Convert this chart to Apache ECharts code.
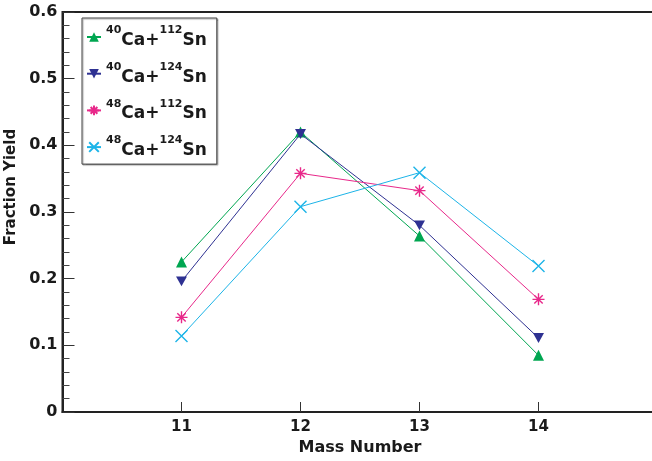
<!DOCTYPE html>
<html>
<head>
<meta charset="utf-8">
<script src="https://cdn.jsdelivr.net/npm/echarts@6/dist/echarts.min.js"></script>
<style>
html,body{margin:0;padding:0;background:#fff;}
#c{width:652px;height:461px;}
</style>
</head>
<body>
<div id="c"></div>
<script>
var massNumbers = [11, 12, 13, 14];
var xTickLabels = [11, 12, 13, 14];
var yTickValues = [0, 0.1, 0.2, 0.3, 0.4, 0.5, 0.6];
var seriesNames = ['40Ca+112Sn', '40Ca+124Sn', '48Ca+112Sn', '48Ca+124Sn'];
var ca40sn112 = [0.225, 0.420, 0.264, 0.085];
var ca40sn124 = [0.196, 0.417, 0.280, 0.111];
var ca48sn112 = [0.142, 0.358, 0.332, 0.169];
var ca48sn124 = [0.114, 0.308, 0.359, 0.219];
var seriesValues = [ca40sn112, ca40sn124, ca48sn112, ca48sn124];

var colors = ['#00a651', '#2e3192', '#e8288a', '#1cb4e8'];
var FONT = 'DejaVu Sans';

function pairs(vals) {
  return massNumbers.map(function (m, i) { return [m, vals[i]]; });
}

var symbolDefs = [
  { symbol: 'triangle', size: 11, filled: true },
  { symbol: 'path://M0,0L10,0L5,9Z', size: 11, filled: true },
  { symbol: 'path://M5,0L5,10M0,5L10,5M1.5,1.5L8.5,8.5M8.5,1.5L1.5,8.5', size: 12, filled: false },
  { symbol: 'path://M0,0L10,10M10,0L0,10', size: 12, filled: false }
];

var series = seriesNames.map(function (name, i) {
  var d = symbolDefs[i];
  return {
    name: name,
    type: 'line',
    data: pairs(seriesValues[i]),
    symbol: d.symbol,
    symbolSize: d.size,
    symbolKeepAspect: true,
    lineStyle: { color: colors[i], width: 1 },
    itemStyle: d.filled
      ? { color: colors[i], borderWidth: 0 }
      : { color: 'rgba(0,0,0,0)', borderColor: colors[i], borderWidth: 1.4 },
    emphasis: { disabled: true },
    animation: false,
    z: 2 + i
  };
});
// draw order: blue over green at the peak
series = [series[0], series[2], series[3], series[1]];

function legendLabel(name) {
  var m = name.match(/^(\d+)Ca\+(\d+)Sn$/);
  return '{s|' + m[1] + '}{m|Ca+}{s|' + m[2] + '}{m|Sn}';
}

var chart = echarts.init(document.getElementById('c'), null, { renderer: 'canvas' });
chart.setOption({
  backgroundColor: '#ffffff',
  animation: false,
  grid: {
    left: 62.5, top: 12, width: 595, height: 400,
    containLabel: false, outerBoundsMode: 'none',
    show: true, borderColor: '#222', borderWidth: 2, backgroundColor: 'transparent'
  },
  legend: {
    data: seriesNames,
    orient: 'vertical',
    left: 82, top: 18,
    padding: [7, 10, 5, 4],
    itemGap: 12.7,
    itemWidth: 14, itemHeight: 12,
    backgroundColor: '#fff',
    borderColor: '#444', borderWidth: 1,
    shadowColor: 'rgba(0,0,0,0.35)', shadowOffsetX: 1, shadowOffsetY: 1, shadowBlur: 1,
    formatter: legendLabel,
    textStyle: {
      fontFamily: FONT, color: '#1a1a1a',
      rich: {
        s: { fontFamily: FONT, fontSize: 11, fontWeight: 'bold', color: '#1a1a1a', verticalAlign: 'top', lineHeight: 14 },
        m: { fontFamily: FONT, fontSize: 17, fontWeight: 'bold', color: '#1a1a1a', lineHeight: 24, verticalAlign: 'bottom' }
      }
    }
  },
  xAxis: {
    type: 'value',
    min: 10, max: 15,
    name: 'Mass Number',
    nameLocation: 'middle',
    nameGap: 26,
    nameTextStyle: { fontFamily: FONT, fontSize: 16, fontWeight: 'bold', color: '#1a1a1a' },
    axisLine: { show: true, lineStyle: { color: '#222', width: 2 } },
    axisTick: { show: true, inside: true, length: 10, lineStyle: { color: '#333', width: 1 }, customValues: xTickLabels },
    axisLabel: { show: true, margin: 8, fontFamily: FONT, fontSize: 15, fontWeight: 'bold', color: '#1a1a1a', customValues: xTickLabels },
    splitLine: { show: false }
  },
  yAxis: {
    type: 'value',
    min: 0, max: 0.6, interval: 0.1,
    name: 'Fraction Yield',
    nameLocation: 'middle',
    nameRotate: 90,
    nameGap: 40,
    nameTextStyle: { fontFamily: FONT, fontSize: 15, fontWeight: 'bold', color: '#1a1a1a', padding: [0, 0, 0, 50] },
    axisLine: { show: true, lineStyle: { color: '#222', width: 2 } },
    axisTick: { show: true, inside: true, length: 12, lineStyle: { color: '#333', width: 1 } },
    minorTick: { show: true, splitNumber: 5, length: 7, lineStyle: { color: '#444', width: 1 } },
    axisLabel: {
      show: true, margin: 5, fontFamily: FONT, fontSize: 16, fontWeight: 'bold', color: '#1a1a1a',
      customValues: yTickValues,
      formatter: function (v) { return v === 0 ? '0' : String(Math.round(v * 10) / 10); }
    },
    splitLine: { show: false }
  },
  series: series
});
</script>
</body>
</html>
